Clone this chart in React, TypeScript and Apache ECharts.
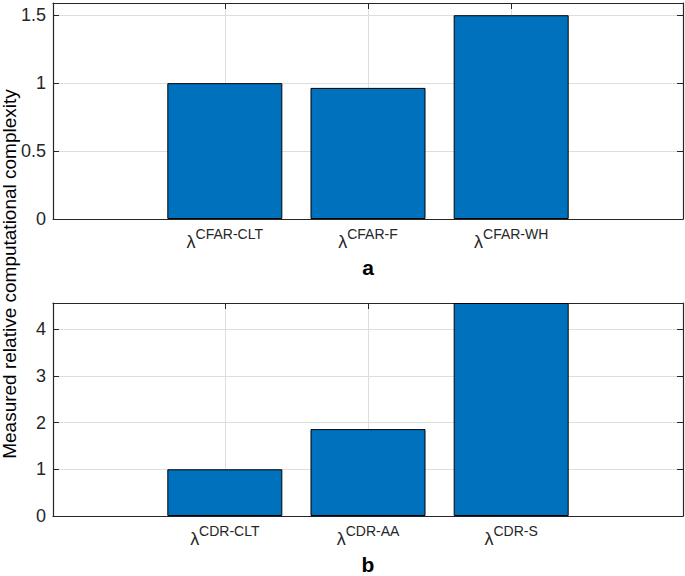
import React, { useEffect, useRef } from "react";
import * as echarts from "echarts";

const cfarLabels = ["CFAR-CLT", "CFAR-F", "CFAR-WH"];
const cfarValues = [1.0, 0.965, 1.5];
const cdrLabels = ["CDR-CLT", "CDR-AA", "CDR-S"];
const cdrValues = [1.0, 1.86, 4.56];
const xPositions = [1, 2, 3];
const panelNames = ["a", "b"];
const yAxisTitle = "Measured relative computational complexity";

const FONT = "Liberation Sans, Arial, Helvetica, sans-serif";
const AX = "#262626";
const GRIDC = "#dedede";
const BAR = "#0072BD";

function xAxes(gridIndex: number, labels: string[], name: string) {
  const base = {
    type: "value",
    gridIndex,
    min: -0.2,
    max: 4.2,
    axisLine: { show: true, onZero: false, lineStyle: { color: AX, width: 1.2 } },
    axisTick: { show: true, inside: true, length: 6, customValues: xPositions, lineStyle: { color: AX } },
  };
  return [
    {
      ...base,
      position: "bottom",
      name,
      nameLocation: "middle",
      nameGap: 38,
      nameTextStyle: { fontFamily: FONT, fontSize: 21, fontWeight: "bold", color: "#000" },
      splitLine: { show: true, lineStyle: { color: GRIDC, width: 1 } },
      axisLabel: {
        show: true,
        customValues: xPositions,
        margin: 8,
        formatter: (v: number) => {
          const i = xPositions.indexOf(Math.round(v));
          return i >= 0 ? `{l|λ}{s|${labels[i]}}` : "";
        },
        rich: {
          l: { fontFamily: FONT, fontSize: 18, lineHeight: 24, verticalAlign: "bottom", color: AX },
          s: { fontFamily: FONT, fontSize: 14, lineHeight: 24, verticalAlign: "top", color: AX },
        },
      },
    },
    {
      ...base,
      position: "top",
      splitLine: { show: false },
      axisLabel: { show: false },
    },
  ];
}

function yAxes(gridIndex: number, max: number, interval: number) {
  const base = {
    type: "value",
    gridIndex,
    min: 0,
    max,
    interval,
    axisLine: { show: true, onZero: false, lineStyle: { color: AX, width: 1.2 } },
    axisTick: { show: true, inside: true, length: 6, lineStyle: { color: AX } },
  };
  return [
    {
      ...base,
      position: "left",
      splitLine: { show: true, lineStyle: { color: GRIDC, width: 1 } },
      axisLabel: {
        show: true,
        showMaxLabel: false,
        margin: 7,
        fontFamily: FONT,
        fontSize: 18,
        color: AX,
      },
    },
    {
      ...base,
      position: "right",
      splitLine: { show: false },
      axisLabel: { show: false },
    },
  ];
}

export default function App() {
  const ref = useRef<HTMLDivElement>(null);
  useEffect(() => {
    if (!ref.current) return;
    const chart = echarts.init(ref.current, null, { renderer: "svg" });
    const option = {
      animation: false,
      backgroundColor: "#fff",
      grid: [
        { left: 53, right: 2, top: 3, height: 216 },
        { left: 53, right: 2, top: 303, height: 215 },
      ],
      xAxis: [...xAxes(0, cfarLabels, panelNames[0]), ...xAxes(1, cdrLabels, panelNames[1])],
      yAxis: [...yAxes(0, 1.59, 0.5), ...yAxes(1, 4.56, 1)],
      series: [
        {
          type: "bar",
          xAxisIndex: 0,
          yAxisIndex: 0,
          barWidth: 115,
          data: xPositions.map((x, i) => [x, cfarValues[i]]),
          itemStyle: { color: BAR, borderColor: "#000", borderWidth: 1 },
        },
        {
          type: "bar",
          xAxisIndex: 2,
          yAxisIndex: 2,
          barWidth: 115,
          data: xPositions.map((x, i) => [x, cdrValues[i]]),
          itemStyle: { color: BAR, borderColor: "#000", borderWidth: 1 },
        },
      ],
      graphic: [
        {
          type: "text",
          x: 9,
          y: 274,
          rotation: Math.PI / 2,
          style: {
            text: yAxisTitle,
            fontFamily: FONT,
            fontSize: 19,
            fill: "#000",
            align: "center",
            verticalAlign: "middle",
          },
        },
      ],
    };
    chart.setOption(option as any);
    return () => chart.dispose();
  }, []);
  return (
    <div
      ref={ref}
      style={{ position: "fixed", left: 0, top: 0, width: 685, height: 576, background: "#fff" }}
    />
  );
}
